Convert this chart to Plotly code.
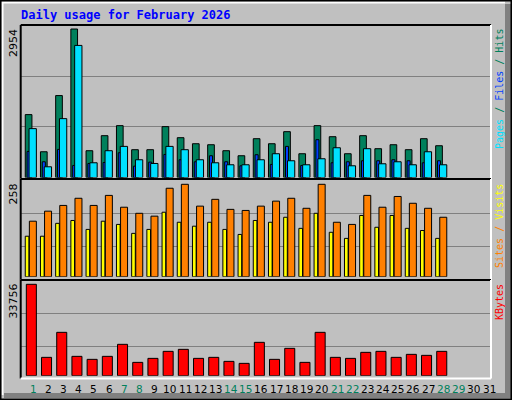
import plotly.graph_objects as go

days = list(range(1, 32))
data_days = list(range(1, 29))
hits = [1251, 512, 1630, 2954, 533, 832, 1032, 553, 553, 1012, 792, 672, 652, 533, 433, 772, 672, 912, 473, 1032, 812, 473, 832, 573, 652, 553, 772, 632]
files = [519, 313, 559, 240, 279, 299, 493, 226, 306, 459, 353, 313, 433, 313, 233, 453, 260, 619, 240, 752, 293, 313, 333, 333, 353, 333, 293, 333]
pages = [972, 213, 1171, 2628, 293, 533, 619, 353, 279, 619, 553, 353, 293, 253, 253, 353, 473, 333, 253, 373, 592, 233, 573, 273, 313, 253, 512, 253]
sites = [113, 113, 149, 157, 132, 155, 146, 121, 132, 180, 152, 141, 152, 132, 118, 157, 152, 166, 135, 177, 124, 107, 171, 138, 171, 135, 129, 107]
visits = [155, 183, 199, 219, 199, 227, 194, 177, 169, 247, 258, 197, 216, 188, 185, 197, 211, 219, 191, 258, 152, 146, 227, 194, 224, 205, 191, 166]
kbytes = [33756, 6776, 16016, 7146, 6037, 7146, 11581, 4928, 6406, 8993, 9732, 6406, 6776, 5297, 4558, 12320, 6037, 10102, 4928, 16016, 6776, 6406, 8624, 8993, 6776, 7885, 7515, 8993]
weekend = [1, 7, 8, 14, 15, 21, 22, 28, 29]
title = "Daily usage for February 2026"

W, H = 512, 400
def py(p):
    return 1 - p / H
def px(p):
    return p / W

fig = go.Figure()
line = dict(color="black", width=1)
def bar(y, color, off, wd, ax):
    fig.add_trace(go.Bar(x=data_days, y=y, marker=dict(color=color, line=line),
                         offset=off, width=wd, xaxis="x" + ax, yaxis="y" + ax, hoverinfo="skip"))

bar(hits, "#00805c", -0.51, 0.44, "")
bar(files, "#0040ff", -0.39, 0.2, "")
bar(pages, "#00e0ff", -0.26, 0.48, "")
bar(sites, "#ffff00", -0.51, 0.24, "2")
bar(visits, "#ff8000", -0.24, 0.46, "2")
bar(kbytes, "#ff0000", -0.44, 0.66, "3")

xr = [0.19, 31.13]
xd = [px(20.7), px(491)]
xa = dict(range=xr, domain=xd, showgrid=False, zeroline=False, showticklabels=False, fixedrange=True)
def ya(dom, rng, grid, anchor):
    return dict(domain=dom, range=rng, tickvals=grid, showticklabels=False, ticks="",
                gridcolor="#808080", gridwidth=1, zeroline=False, anchor=anchor)

fig.update_layout(
    width=W, height=H, margin=dict(l=0, r=0, t=0, b=0),
    paper_bgcolor="#c0c0c0", plot_bgcolor="#c0c0c0", showlegend=False,
    barmode="overlay",
    xaxis=dict(xa, anchor="y"), xaxis2=dict(xa, anchor="y2"), xaxis3=dict(xa, anchor="y3"),
    yaxis=ya([py(177.5), py(25)], [0, 3034], [1005, 2019], "x"),
    yaxis2=ya([py(276.7), py(180)], [0, 270], [84, 177], "x2"),
    yaxis3=ya([py(375.7), py(280)], [0, 35345], [10968, 23045], "x3"),
)

shapes = []
shapes.append(dict(type="rect", xref="paper", yref="paper", x0=px(505), x1=px(511), y0=py(398), y1=py(4),
                   fillcolor="#808080", line=dict(width=0)))
shapes.append(dict(type="rect", xref="paper", yref="paper", x0=px(4), x1=px(511), y0=py(398), y1=py(393),
                   fillcolor="#808080", line=dict(width=0)))
shapes.append(dict(type="line", xref="paper", yref="paper", x0=px(2), x1=px(505), y0=py(2.5), y1=py(2.5),
                   line=dict(color="white", width=2)))
shapes.append(dict(type="line", xref="paper", yref="paper", x0=px(2.5), x1=px(2.5), y0=py(2), y1=py(395),
                   line=dict(color="white", width=2)))
shapes.append(dict(type="rect", xref="paper", yref="paper", x0=0.001, x1=0.999, y0=0.001, y1=0.999,
                   line=dict(color="black", width=2)))
for top, bot in [(25, 179), (179, 280), (280, 378.5)]:
    shapes.append(dict(type="line", xref="paper", yref="paper", x0=px(20.7), x1=px(491), y0=py(top), y1=py(top),
                       line=dict(color="black", width=2)))
    shapes.append(dict(type="line", xref="paper", yref="paper", x0=px(20.7), x1=px(20.7), y0=py(top), y1=py(bot),
                       line=dict(color="black", width=2)))
    shapes.append(dict(type="line", xref="paper", yref="paper", x0=px(491), x1=px(491), y0=py(top), y1=py(bot),
                       line=dict(color="white", width=2)))
    shapes.append(dict(type="line", xref="paper", yref="paper", x0=px(20.7), x1=px(491), y0=py(bot), y1=py(bot),
                       line=dict(color="white", width=2)))
fig.update_layout(shapes=shapes)

mono = "DejaVu Sans Mono"
ann = []
ann.append(dict(text="<b>" + title + "</b>", x=px(19), y=py(15), xref="paper", yref="paper",
                xanchor="left", yanchor="middle", showarrow=False, font=dict(family=mono, size=12, color="#0000ff")))
for val, ytop in [(max(hits), 27), (max(visits), 182), (max(kbytes), 282)]:
    ann.append(dict(text=str(val), x=px(13), y=py(ytop), xref="paper", yref="paper", textangle=-90,
                    xanchor="center", yanchor="top", showarrow=False, font=dict(family="DejaVu Sans", size=11, color="black")))
ann.append(dict(text='<span style="color:#00e0ff">Pages</span> / <span style="color:#0040ff">Files</span> / <span style="color:#00805c">Hits</span>',
                x=px(499), y=py(27), xref="paper", yref="paper", textangle=-90, xanchor="center", yanchor="top",
                showarrow=False, font=dict(family=mono, size=10, color="#00805c")))
ann.append(dict(text='<span style="color:#ff8000">Sites</span> / <span style="color:#ffff00">Visits</span>',
                x=px(499), y=py(182), xref="paper", yref="paper", textangle=-90, xanchor="center", yanchor="top",
                showarrow=False, font=dict(family=mono, size=10, color="#ff8000")))
ann.append(dict(text='KBytes', x=px(499), y=py(282), xref="paper", yref="paper", textangle=-90,
                xanchor="center", yanchor="top", showarrow=False, font=dict(family=mono, size=10, color="#ff0000")))
for d in days:
    ann.append(dict(text=str(d), x=d, y=py(389), xref="x3", yref="paper", xanchor="center", yanchor="middle",
                    showarrow=False, font=dict(family="DejaVu Sans", size=10.5,
                                               color="#00805c" if d in weekend else "black")))
fig.update_layout(annotations=ann)
fig.write_html("out.html", config={"displayModeBar": False},
               post_script="document.body.style.margin='0';document.body.style.overflow='hidden';")
